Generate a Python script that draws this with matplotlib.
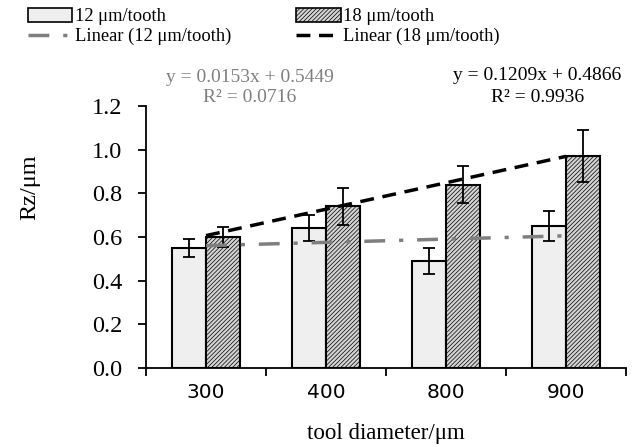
import numpy as np
import matplotlib.pyplot as plt
from matplotlib.patches import Patch
from matplotlib.lines import Line2D

diameters = ["300", "400", "800", "900"]
rz_12 = [0.55, 0.64, 0.49, 0.65]
err_12 = [0.04, 0.06, 0.06, 0.07]
rz_18 = [0.60, 0.74, 0.84, 0.97]
err_18 = [0.045, 0.085, 0.085, 0.12]

serif = "Liberation Serif"
plt.rcParams["hatch.color"] = "#5a5a5a"
plt.rcParams["hatch.linewidth"] = 0.5

fig = plt.figure(figsize=(6.38, 4.47), dpi=100)
ax = fig.add_axes([0.229, 0.177, 0.752, 0.586])

x = np.arange(1, len(diameters) + 1)
w = 0.285
ax.bar(x - w / 2, rz_12, w, color="#efefef", edgecolor="black", linewidth=1.5,
       yerr=err_12, capsize=4, error_kw=dict(elinewidth=1.3, capthick=1.3))
ax.bar(x + w / 2, rz_18, w, color="#d4d4d4", edgecolor="black", linewidth=1.5,
       hatch="////////", yerr=err_18, capsize=4,
       error_kw=dict(elinewidth=1.3, capthick=1.3))

# least-squares trend lines over the category index
p12 = np.polyfit(x, rz_12, 1)
p18 = np.polyfit(x, rz_18, 1)
ax.plot(x, np.polyval(p12, x), color="#7f7f7f", lw=2.5, ls=(0, (6, 4, 1.2, 4)))
ax.plot(x, np.polyval(p18, x), color="black", lw=2.5, ls=(0, (4, 2.5)))

ax.set_xlim(0.5, 4.5)
ax.set_ylim(0, 1.2)
ax.set_yticks(np.arange(0, 1.21, 0.2))
ax.set_yticklabels([f"{v:.1f}" for v in np.arange(0, 1.21, 0.2)],
                   fontfamily=serif, fontsize=17.5)
ax.set_xticks(np.arange(0.5, 4.6, 1.0))
ax.set_xticklabels([])
ax.set_xticks(x, minor=True)
ax.set_xticklabels(diameters, minor=True, fontfamily="DejaVu Sans", fontsize=14.5)
ax.tick_params(axis="x", which="minor", length=0, pad=11)
ax.tick_params(axis="x", which="major", length=6, width=1.3)
ax.tick_params(axis="y", length=6, width=1.3, pad=11)
for s in ["top", "right"]:
    ax.spines[s].set_visible(False)
for s in ["left", "bottom"]:
    ax.spines[s].set_linewidth(1.3)

fig.text(0.605, 0.03, "tool diameter/μm", fontfamily=serif, fontsize=16.5,
         ha="center", va="center")
fig.text(0.047, 0.582, "Rz/μm", fontfamily=serif, fontsize=17.5,
         rotation=90, ha="center", va="center")

fig.text(0.392, 0.826, "y = 0.0153x + 0.5449", color="#7f7f7f",
         fontfamily=serif, fontsize=14, ha="center", va="center")
fig.text(0.392, 0.781, "R² = 0.0716", color="#7f7f7f",
         fontfamily=serif, fontsize=14, ha="center", va="center")
fig.text(0.842, 0.830, "y = 0.1209x + 0.4866", color="black",
         fontfamily=serif, fontsize=14, ha="center", va="center")
fig.text(0.842, 0.781, "R² = 0.9936", color="black",
         fontfamily=serif, fontsize=14, ha="center", va="center")

handles = [
    Patch(facecolor="#efefef", edgecolor="black", linewidth=1.2),
    Patch(facecolor="#d4d4d4", edgecolor="black", linewidth=1.2, hatch="////////"),
    Line2D([], [], color="#7f7f7f", lw=2.5, ls=(0, (6, 4, 1.2, 4))),
    Line2D([], [], color="black", lw=2.5, ls=(0, (4, 2.5))),
]
labels = ["12 μm/tooth", "18 μm/tooth", "Linear (12 μm/tooth)", "Linear (18 μm/tooth)"]
order = [0, 2, 1, 3]
fig.legend([handles[i] for i in order], [labels[i] for i in order], ncol=2,
           loc="upper left", bbox_to_anchor=(0.018, 1.02), frameon=False,
           prop=dict(family=serif, size=13.3), handlelength=2.4, handleheight=0.8,
           handletextpad=0.15, columnspacing=3.5, labelspacing=0.15)

fig.savefig("out.png", dpi=100)
